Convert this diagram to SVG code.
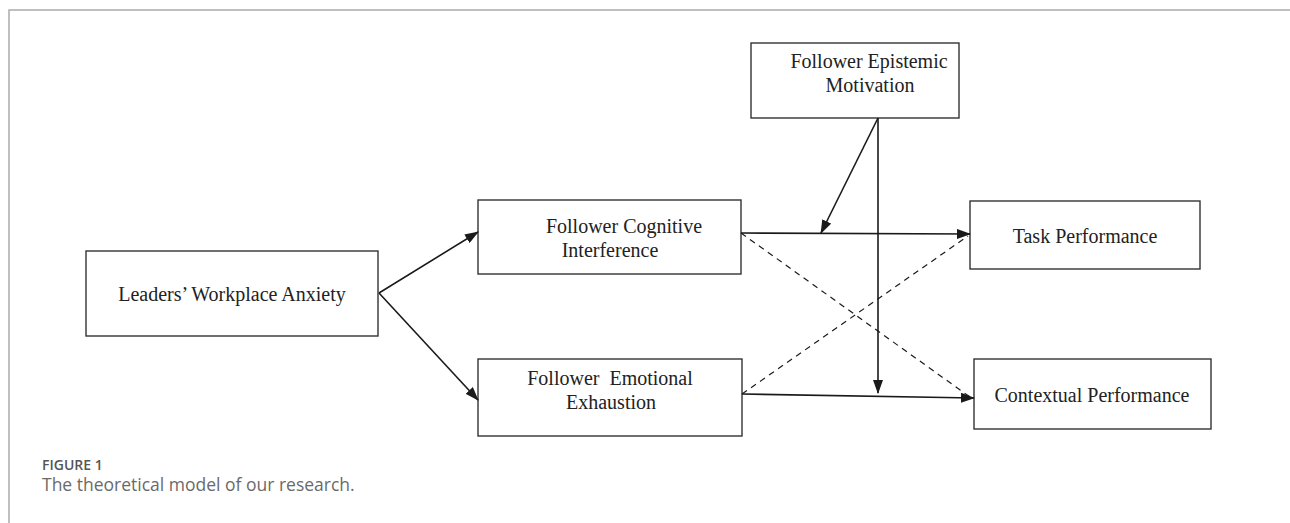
<svg xmlns="http://www.w3.org/2000/svg" width="1290" height="523" viewBox="0 0 1290 523">
<style>
.box{fill:#fff;stroke:#333;stroke-width:1.4}
.lbl{font-family:"Liberation Serif","Times New Roman",serif;font-size:20px;fill:#222;text-anchor:middle;white-space:pre}
.ln{stroke:#1a1a1a;stroke-width:1.6;fill:none}
.dash{stroke:#1a1a1a;stroke-width:1.2;fill:none;stroke-dasharray:6,5}
.frame{stroke:#aaa;stroke-width:1.5;fill:none}
</style>
<defs>
<marker id="ah" markerUnits="userSpaceOnUse" markerWidth="14" markerHeight="10" refX="13" refY="5" orient="auto" viewBox="0 0 14 10">
<path d="M0,0 L14,5 L0,10 z" fill="#1a1a1a"/>
</marker>
</defs>
<path class="frame" d="M9,523 L9,10 L1290,10"/>
<g id="n-leaders">
<rect class="box" x="86" y="251" width="292" height="85"/>
<text class="lbl" x="232" y="301">Leaders’ Workplace Anxiety</text>
</g>
<g id="n-cognitive">
<rect class="box" x="478" y="200" width="263" height="74"/>
<text class="lbl" x="624" y="233">Follower Cognitive</text>
<text class="lbl" x="610" y="257">Interference</text>
</g>
<g id="n-emotional">
<rect class="box" x="478" y="359" width="264" height="77"/>
<text class="lbl" x="610" y="385">Follower  Emotional</text>
<text class="lbl" x="611" y="409">Exhaustion</text>
</g>
<g id="n-epistemic">
<rect class="box" x="751" y="43" width="208" height="75"/>
<text class="lbl" x="869" y="68">Follower Epistemic</text>
<text class="lbl" x="870" y="92">Motivation</text>
</g>
<g id="n-task">
<rect class="box" x="970" y="201" width="230" height="68"/>
<text class="lbl" x="1085" y="243">Task Performance</text>
</g>
<g id="n-contextual">
<rect class="box" x="974" y="359" width="237" height="70"/>
<text class="lbl" x="1092" y="402">Contextual Performance</text>
</g>
<g id="connectors">
<line class="ln" x1="379" y1="293" x2="478" y2="232" marker-end="url(#ah)"/>
<line class="ln" x1="379" y1="293" x2="478" y2="400" marker-end="url(#ah)"/>
<line class="ln" x1="741" y1="233" x2="970" y2="234" marker-end="url(#ah)"/>
<line class="ln" x1="742" y1="394" x2="974" y2="398" marker-end="url(#ah)"/>
<line class="dash" x1="741" y1="233" x2="970" y2="397"/>
<line class="dash" x1="742" y1="394" x2="968" y2="236"/>
<line class="ln" x1="878" y1="118" x2="878" y2="393" marker-end="url(#ah)"/>
<line class="ln" x1="878" y1="118" x2="821" y2="233" marker-end="url(#ah)"/>
</g>
<g id="caption">
<text x="42" y="470" style="font-family:'Open Sans','Noto Sans',sans-serif;font-size:14px;font-weight:600;fill:#555">FIGURE 1</text>
<text x="42" y="491" style="font-family:'Open Sans','Noto Sans',sans-serif;font-size:17.5px;font-weight:400;fill:#6a6a6a">The theoretical model of our research.</text>
</g>
</svg>
